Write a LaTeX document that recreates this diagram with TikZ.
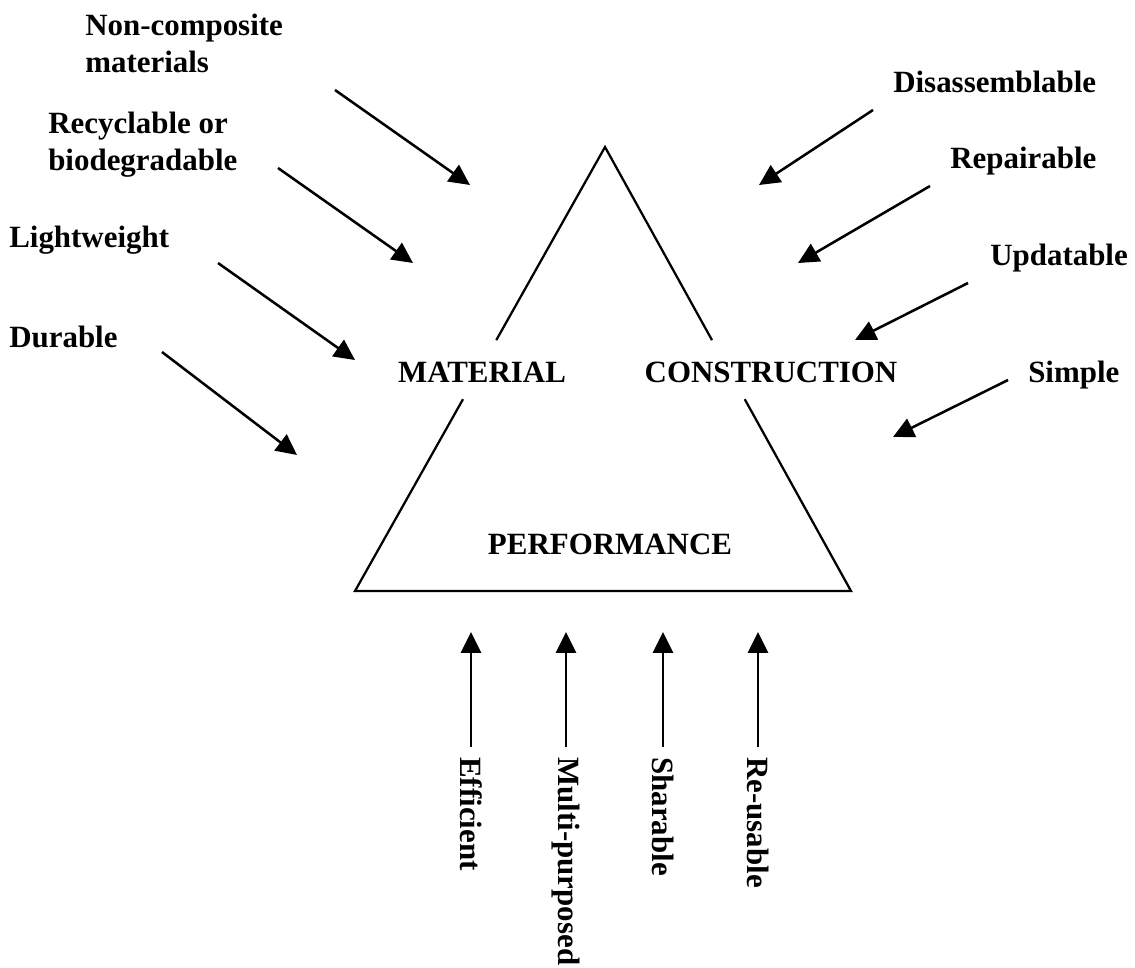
\documentclass[tikz,border=0pt]{standalone}
\usepackage{fontspec}
\setmainfont{Liberation Serif}
\usetikzlibrary{arrows.meta,calc}

\tikzset{
    tri line/.style={
      draw=black,
      line width=1.6pt,
      line join=miter
    },
    feat arrow/.style={
      draw=black,
      line width=1.8pt,
      -{Triangle[length=0.52cm,width=0.5cm]}
    },
    feat label/.style={
      font=\fontsize{22}{26.3}\selectfont\bfseries,
      inner sep=0pt
    },
    corner label/.style={
      font=\fontsize{22}{26.3}\selectfont\bfseries,
      inner sep=0pt
    }
  }

\begin{document}
\begin{tikzpicture}[x=0.025cm,y=-0.025cm]
      \useasboundingbox (0,0) rectangle (1135,967);

      % corners of the triangle
      \coordinate (top) at (605,147);
      \coordinate (bl) at (355,591);
      \coordinate (br) at (851,591);

      % triangle, open where the corner labels sit
      \draw[tri line] ($(top)!0.435!(bl)$) -- (top) -- ($(top)!0.435!(br)$);
      \draw[tri line] ($(top)!0.568!(bl)$) -- (bl) -- (br) -- ($(top)!0.568!(br)$);

      % corner labels
      \node[corner label, anchor=base] (mat) at (482,382) {MATERIAL};
      \node[corner label, anchor=base] (con) at (771,382) {CONSTRUCTION};
      \node[corner label, anchor=base] (perf) at (610,554) {PERFORMANCE};

      % material side
      \node[feat label, anchor=base west, align=left] (noncomp) at (85,72) {Non-composite\\materials};
      \node[feat label, anchor=base west, align=left] (recyc) at (48,170) {Recyclable or\\biodegradable};
      \node[feat label, anchor=base west] (light) at (9,247) {Lightweight};
      \node[feat label, anchor=base west] (dur) at (9,347) {Durable};

      \coordinate (noncomp-s) at (335,90);
      \coordinate (noncomp-e) at (470,185);
      \coordinate (recyc-s) at (278,168);
      \coordinate (recyc-e) at (413,263);
      \coordinate (light-s) at (218,263);
      \coordinate (light-e) at (355,360);
      \coordinate (dur-s) at (162,352);
      \coordinate (dur-e) at (297,455);

      \draw[feat arrow] (noncomp-s) -- (noncomp-e);
      \draw[feat arrow] (recyc-s) -- (recyc-e);
      \draw[feat arrow] (light-s) -- (light-e);
      \draw[feat arrow] (dur-s) -- (dur-e);

      % construction side
      \node[feat label, anchor=base west] (disas) at (893,92) {Disassemblable};
      \node[feat label, anchor=base west] (repair) at (950,168) {Repairable};
      \node[feat label, anchor=base west] (update) at (990,265) {Updatable};
      \node[feat label, anchor=base west] (simple) at (1028,382) {Simple};

      \coordinate (disas-s) at (873,110);
      \coordinate (disas-e) at (759,185);
      \coordinate (repair-s) at (930,186);
      \coordinate (repair-e) at (798,263);
      \coordinate (update-s) at (968,283);
      \coordinate (update-e) at (855,340);
      \coordinate (simple-s) at (1008,380);
      \coordinate (simple-e) at (893,437);

      \draw[feat arrow] (disas-s) -- (disas-e);
      \draw[feat arrow] (repair-s) -- (repair-e);
      \draw[feat arrow] (update-s) -- (update-e);
      \draw[feat arrow] (simple-s) -- (simple-e);

      % performance side
      \coordinate (tips) at (0,632);
      \node[feat label, rotate=-90, anchor=west] (eff) at (471,757) {Efficient};
      \node[feat label, rotate=-90, anchor=west] (multi) at (566,757) {Multi-purposed};
      \node[feat label, rotate=-90, anchor=west] (share) at (663,757) {Sharable};
      \node[feat label, rotate=-90, anchor=west] (reuse) at (758,757) {Re-usable};

      \draw[feat arrow, shorten <=0.25cm] (eff.west) -- (eff.west |- tips);
      \draw[feat arrow, shorten <=0.25cm] (multi.west) -- (multi.west |- tips);
      \draw[feat arrow, shorten <=0.25cm] (share.west) -- (share.west |- tips);
      \draw[feat arrow, shorten <=0.25cm] (reuse.west) -- (reuse.west |- tips);
    \end{tikzpicture}
\end{document}
